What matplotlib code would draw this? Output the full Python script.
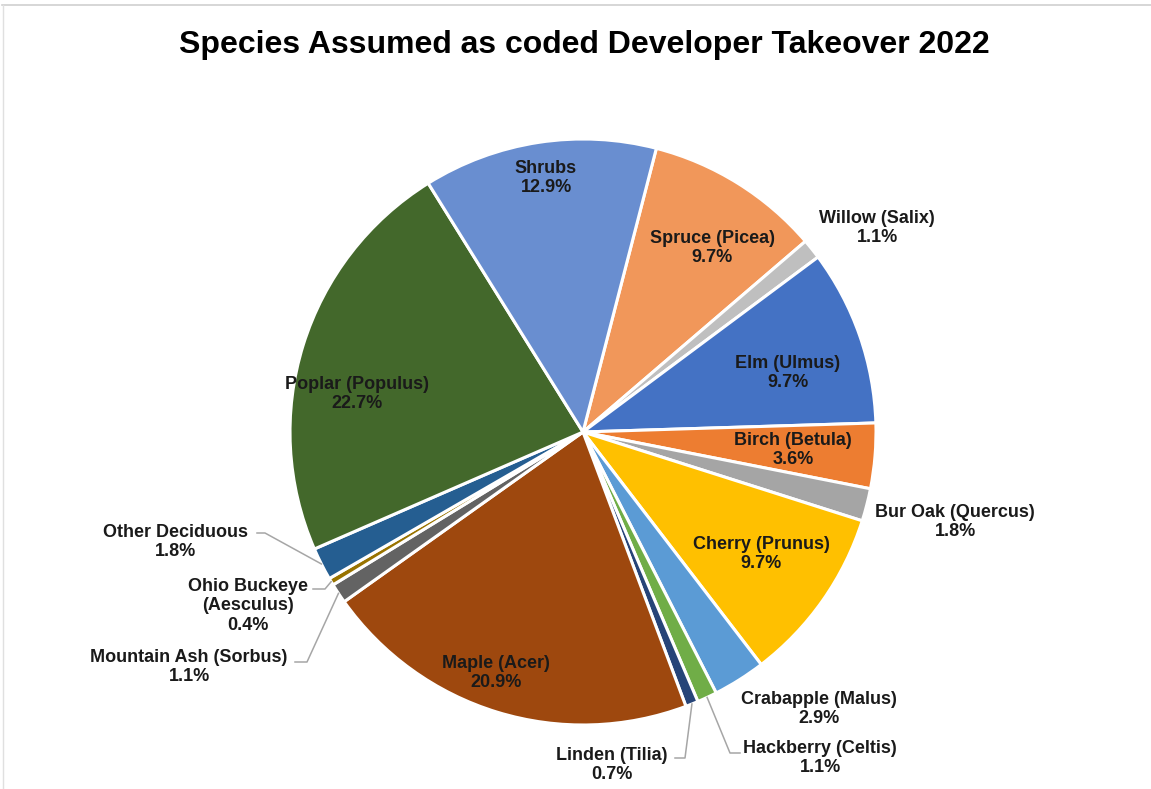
import numpy as np
import matplotlib.pyplot as plt
from matplotlib.lines import Line2D

# Slices in drawing order (clockwise, Excel style)
species = [
    "Spruce (Picea)", "Willow (Salix)", "Elm (Ulmus)", "Birch (Betula)",
    "Bur Oak (Quercus)", "Cherry (Prunus)", "Crabapple (Malus)",
    "Hackberry (Celtis)", "Linden (Tilia)", "Maple (Acer)",
    "Mountain Ash (Sorbus)", "Ohio Buckeye\n(Aesculus)", "Other Deciduous",
    "Poplar (Populus)", "Shrubs",
]
percent = [9.7, 1.1, 9.7, 3.6, 1.8, 9.7, 2.9, 1.1, 0.7, 20.9, 1.1, 0.4, 1.8, 22.7, 12.9]

COLORS = [
    "#F1975A", "#BFBFBF", "#4472C4", "#ED7D31", "#A5A5A5", "#FFC000", "#5B9BD5",
    "#70AD47", "#264478", "#9E480E", "#636363", "#997300", "#255E91", "#43682B",
    "#698ED0",
]

# layout, in pixels of the 1151x789 picture
W, H = 1151, 789
CX, CY, R = 583, 432, 293
LABEL_PX = [
    (712, 248), (877, 228), (788, 373), (793, 450), (955, 522), (761, 554),
    (819, 709), (820, 758), (612, 765), (496, 673), (189, 667), (248, 606),
    (175, 542), (357, 394), (546, 178),
]
# leader lines: slice index -> (attach point at text, elbow point)
LEADERS = {
    12: ((257, 533), (265, 533)),
    11: ((313, 589), (325, 589)),
    10: ((295, 662), (307, 662)),
    8: ((675, 758), (685, 758)),
    7: ((740, 753), (730, 753)),
}
START = 90 - 14.5


def px(x, y):
    return (x - CX) / R, (CY - y) / R


def main() -> None:
    plt.rcParams["font.family"] = ["Liberation Sans", "DejaVu Sans"]
    fig = plt.figure(figsize=(W / 100, H / 100), dpi=100)
    ax = fig.add_axes([0, 0, 1, 1])

    wedges, _ = ax.pie(percent, colors=COLORS, startangle=START, counterclock=False,
                       radius=1.0, wedgeprops=dict(edgecolor="white", linewidth=2.2))

    # pie() resets the limits, so set them afterwards
    ax.set_xlim(-CX / R, (W - CX) / R)
    ax.set_ylim(-(H - CY) / R, CY / R)
    ax.set_aspect("equal")
    ax.axis("off")

    for i, (name, p) in enumerate(zip(species, percent)):
        tx, ty = px(*LABEL_PX[i])
        ax.text(tx, ty, f"{name}\n{p:.1f}%", ha="center", va="center",
                fontsize=13, fontweight="bold", color="#1a1a1a", linespacing=1.22)
        if i in LEADERS:
            w = wedges[i]
            mid = np.deg2rad((w.theta1 + w.theta2) / 2)
            wx, wy = np.cos(mid), np.sin(mid)
            (ax1, ay1), (ex, ey) = LEADERS[i]
            p1, p2 = px(ax1, ay1), px(ex, ey)
            ax.plot([p1[0], p2[0], wx], [p1[1], p2[1], wy], color="#A6A6A6", lw=1.1)

    fig.text(584 / W, 1 - 45 / H, "Species Assumed as coded Developer Takeover 2022",
             ha="center", va="center", fontsize=23, fontweight="bold", color="black")

    # faint frame of the original chart area
    fig.add_artist(Line2D([0.002, 1], [1 - 5 / H, 1 - 5 / H], color="#D0D0D0", lw=1.2))
    fig.add_artist(Line2D([3 / W, 3 / W], [0, 1 - 5 / H], color="#E0E0E0", lw=1.0))

    fig.savefig("out.png", dpi=100)


if __name__ == "__main__":
    main()
